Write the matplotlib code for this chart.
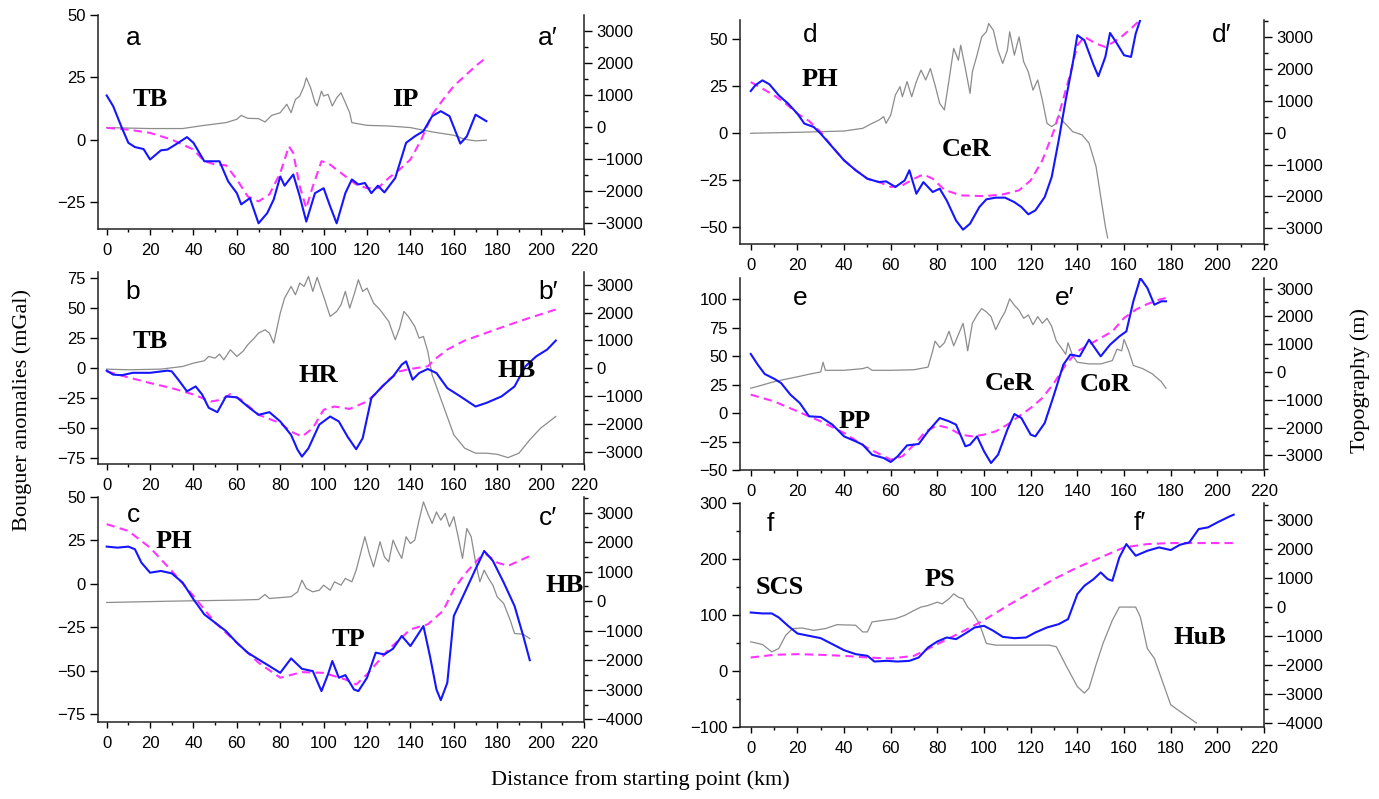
import matplotlib
matplotlib.use("Agg")
import matplotlib.pyplot as plt
from matplotlib.ticker import MultipleLocator

# ---- profile a-a' ----
a_obs_x = [0, 3, 7, 10, 13, 17, 20, 25, 28, 33, 37, 40, 45, 50, 52, 56, 60, 62, 66, 70, 74, 77, 80, 82, 86, 89,
           92, 96, 100, 103, 106, 110, 113, 116, 119, 122, 125, 128, 133, 138, 142, 146, 150, 154, 158, 163, 166, 170, 175]
a_obs = [17.7, 13.4, 4.7, -1.3, -3, -3.8, -8, -4.3, -4, -1.3, 1, -1.3, -8.7, -8.7, -8.7, -16.8, -21.5, -26, -23.5,
         -33.6, -29.5, -24, -14.8, -18.5, -14, -22.8, -32.9, -21.5, -19.5, -26.8, -33.6, -21.5, -16, -18, -17.4, -21.5,
         -18.5, -21.2, -15.4, -1.3, 1.3, 3.4, 9.4, 11.4, 9.4, -1.6, 1.3, 10, 7.4]
a_reg_x = [0, 10, 20, 30, 40, 45, 50, 55, 60, 65, 70, 75, 80, 84, 86, 89, 92, 95, 99, 102, 108, 115, 120, 125, 130,
           135, 140, 145, 150, 155, 160, 165, 170, 175]
a_reg = [4.7, 4, 2.7, 0, -4, -8.7, -10, -10.3, -16, -22.8, -24.8, -22, -13.4, -2.7, -5.4, -18.8, -27.5, -18.8, -8.7,
         -9.4, -13.4, -18, -19.5, -19.5, -15.4, -12, -8, 0, 10, 16, 21.5, 25.5, 29.5, 32.9]
a_topo_x = [0, 20, 35, 45, 55, 60, 62, 65, 70, 73, 76, 80, 83, 85, 87, 89, 91, 92, 94, 96, 97, 99, 100, 102, 104, 106,
            108, 110, 112, 113, 120, 130, 140, 150, 160, 165, 170, 175]
a_topo = [-30, -60, -60, 40, 125, 230, 350, 260, 250, 145, 350, 435, 700, 435, 850, 955, 1270, 1525, 1215, 750, 645,
          1110, 955, 1010, 645, 900, 1060, 750, 435, 125, 40, 20, -30, -165, -270, -395, -445, -425]

# ---- profile b-b' ----
b_obs_x = [0, 3, 7, 12, 20, 28, 30, 33, 37, 41, 44, 47, 51, 55, 60, 65, 70, 75, 80, 85, 88, 90, 93, 98, 103, 107,
           111, 115, 118, 122, 127, 132, 136, 138, 141, 144, 148, 152, 157, 163, 170, 175, 182, 188, 193, 198, 203, 207]
b_obs = [-2.2, -5.5, -6, -4, -4, -2.2, -2.8, -9.7, -19.4, -15.3, -22, -33, -36.7, -23.6, -24.4, -32, -38.9, -36.7,
         -44.4, -55.6, -68, -73.6, -66.7, -47, -40.3, -44.4, -57, -67.5, -58.3, -25, -15.3, -7, 2.8, 5.5, -9.7, -4.2,
         -0.8, -4.2, -16.7, -23.6, -32, -29, -23.6, -15.3, 1.4, 9.7, 15.3, 22.8]
b_reg_x = [0, 10, 20, 30, 40, 48, 53, 57, 62, 70, 80, 85, 90, 95, 100, 105, 112, 120, 125, 130, 135, 140, 148, 152,
           157, 165, 175, 185, 195, 207]
b_reg = [-2.8, -7.8, -12.5, -16.7, -22, -27.8, -26.4, -21.7, -26.4, -38.9, -45.8, -52.8, -57, -50, -34.7, -32, -34,
         -27.8, -19.4, -9.7, -2.8, -0.8, 1.4, 8.3, 15.3, 22.8, 29.2, 35.6, 41.7, 48.6]
b_topo_x = [0, 10, 25, 35, 40, 45, 47, 50, 52, 54, 57, 60, 63, 65, 68, 70, 73, 75, 77, 80, 82, 85, 87, 89, 91, 93, 95,
            97, 100, 103, 106, 108, 110, 112, 114, 116, 118, 120, 123, 126, 130, 133, 135, 137, 139, 142, 144, 146,
            148, 150, 155, 160, 165, 170, 175, 180, 185, 190, 195, 200, 207]
b_topo = [-35, -60, -35, 60, 180, 265, 420, 360, 505, 300, 660, 420, 620, 840, 1080, 1260, 1380, 1260, 900, 1980,
          2520, 2940, 2640, 3060, 2940, 3300, 2760, 3265, 2580, 1860, 2040, 2280, 2760, 2160, 2640, 3180, 2760, 2880,
          2340, 2100, 1680, 1020, 1440, 2040, 1860, 1500, 1080, 1140, 600, -240, -1320, -2400, -2880, -3060, -3060,
          -3100, -3220, -3060, -2580, -2160, -1740]

# ---- profile c-c' ----
c_obs_x = [0, 5, 10, 13, 16, 20, 25, 30, 35, 40, 45, 50, 55, 60, 65, 70, 75, 80, 85, 90, 95, 99, 102, 104, 107, 110,
           114, 116, 120, 124, 128, 132, 136, 140, 146, 149, 152, 154, 157, 160, 165, 170, 174, 178, 183, 188, 192, 195]
c_obs = [21.3, 20.7, 21.3, 19.8, 12.1, 6.3, 7.3, 5.9, 0.6, -9, -17.7, -22.5, -27.3, -34, -39.7, -43.6, -47.4, -51.3,
         -43, -49, -50.3, -61.8, -52.2, -44.5, -54.1, -52.6, -60.9, -61.8, -54.1, -39.7, -40.7, -37.4, -30.1, -35.9,
         -24.4, -41.7, -60.9, -67, -57, -18.6, -5.2, 8.3, 18.8, 13.1, 0.6, -12.9, -30.1, -44]
c_reg_x = [0, 10, 20, 30, 40, 50, 60, 70, 80, 90, 100, 110, 115, 120, 130, 140, 148, 155, 160, 165, 172, 175, 180,
           185, 195]
c_reg = [34.2, 30.3, 20.7, 7.3, -7.1, -22.5, -34, -45.5, -54.1, -50.9, -51.3, -55.1, -58, -52.2, -37.8, -26.3, -23.4,
         -15.7, -3.3, 5.4, 15, 16.9, 12.1, 10.2, 15.9]
c_topo_x = [0, 30, 60, 70, 73, 75, 85, 88, 90, 92, 95, 98, 100, 103, 105, 108, 110, 113, 115, 117, 119, 121, 123, 126,
            128, 130, 132, 134, 136, 138, 140, 142, 144, 146, 148, 150, 152, 154, 156, 158, 160, 162, 164, 166, 168,
            170, 172, 174, 176, 178, 180, 183, 186, 188, 192, 195]
c_topo = [-45, 0, 35, 55, 225, 90, 150, 315, 710, 430, 315, 370, 540, 370, 655, 540, 770, 655, 1050, 1615, 2180, 1615,
          1160, 2010, 1500, 1330, 2065, 1725, 1445, 2180, 1950, 2065, 2740, 3360, 2970, 2630, 3020, 2740, 2970, 2520,
          2860, 2180, 1445, 2460, 2180, 1330, 655, 1050, 770, 540, 145, -80, -645, -1095, -1120, -1265]

# ---- profile d-d' ----
d_obs_x = [0, 2, 5, 8, 12, 16, 20, 23, 27, 30, 35, 40, 45, 50, 55, 58, 62, 66, 68, 71, 74, 78, 81, 84, 88, 91, 94,
           98, 101, 105, 109, 113, 116, 119, 122, 126, 129, 132, 135, 138, 140, 143, 147, 149, 152, 154, 157, 160,
           163, 165, 167]
d_obs = [22.4, 25.5, 28.1, 26, 20.1, 15.7, 10.3, 5, 3.2, -0.4, -7.5, -14.6, -19.9, -24.4, -26.2, -25.8, -28.8, -25.3,
         -19.9, -32.4, -26.2, -31.5, -29.7, -36, -46.7, -51.6, -48.4, -39.5, -35.4, -34.5, -34.5, -36.9, -39.5, -43.4,
         -41.3, -34.2, -23.5, -3.9, 17.5, 37, 52.2, 49.5, 36.1, 30.3, 40.6, 53.4, 47.7, 41.5, 40.6, 53, 60.5]
d_reg_x = [0, 5, 10, 15, 20, 25, 30, 35, 40, 45, 50, 55, 60, 65, 70, 74, 78, 83, 90, 100, 108, 115, 120, 125, 130,
           133, 137, 140, 143, 148, 152, 158, 163, 167]
d_reg = [27.2, 23.7, 20.1, 15.7, 10.3, 6.4, 0.5, -7.5, -14.6, -19.9, -24.4, -26.2, -28.8, -28, -24.4, -22.1, -24.4,
         -30.3, -33.3, -33.7, -32.8, -30.6, -25.3, -14.6, 1.4, 13.9, 31.7, 46.8, 51.3, 47.7, 45.9, 50.4, 55.7, 60.5]
d_topo_x = [0, 20, 40, 48, 52, 55, 57, 58, 60, 62, 64, 65, 67, 69, 71, 73, 75, 77, 79, 81, 83, 85, 87, 89, 90, 92,
            94, 95, 97, 99, 101, 102, 104, 106, 108, 110, 111, 113, 115, 117, 119, 121, 123, 125, 127, 129, 131, 132,
            134, 136, 138, 142, 145, 148, 150, 152, 153]
d_topo = [-20, 10, 50, 135, 290, 395, 500, 290, 550, 1180, 1440, 1125, 1600, 1125, 1600, 1960, 1650, 2010, 1490, 915,
          710, 1650, 2640, 2270, 2740, 2010, 1230, 1910, 2430, 3000, 3160, 3420, 3210, 2580, 2170, 2580, 3160, 2430,
          3000, 2220, 1900, 1330, 1650, 1020, 290, 190, 290, 550, 340, 190, 30, -70, -330, -1060, -2000, -2940, -3300]

# ---- profile e-e' ----
e_obs_x = [0, 3, 6, 10, 13, 17, 21, 25, 30, 35, 40, 45, 48, 52, 57, 60, 63, 67, 72, 76, 81, 85, 88, 92, 94, 97, 100,
           103, 106, 110, 113, 116, 120, 122, 126, 130, 134, 137, 141, 145, 150, 154, 158, 161, 164, 167, 170, 173,
           176, 178]
e_obs = [51.8, 42.4, 34.2, 30.1, 26.3, 16.1, 8.8, -2.9, -3.5, -10.2, -20.5, -24.9, -27.8, -36.6, -39.5, -43, -38,
         -28.4, -27.2, -16.1, -4.4, -7.3, -10.2, -29.2, -27.8, -20.5, -33.6, -43.9, -36.6, -14.6, -0.9, -4.4, -19,
         -20.5, -8.8, 16.1, 42.4, 51.2, 49.7, 64.3, 49.7, 59.9, 67.2, 71.6, 98, 118.4, 109.7, 95, 98, 98]
e_reg_x = [0, 10, 20, 30, 40, 50, 60, 65, 70, 75, 80, 85, 90, 95, 100, 105, 110, 115, 120, 125, 130, 135, 140, 145,
           150, 155, 160, 165, 170, 175, 178]
e_reg = [16.1, 10.2, 1.5, -7.3, -17.5, -30.7, -40.9, -38, -27.8, -16.1, -10.8, -13.2, -19, -20.5, -19, -16.1, -10.2,
         -2.9, 4.4, 13.2, 26.3, 42.4, 54.1, 59.9, 65.8, 71.6, 83.3, 90.6, 95.6, 99.4, 100.9]
e_topo_x = [0, 5, 10, 15, 20, 25, 30, 31, 32, 40, 48, 50, 52, 60, 70, 76, 78, 79, 81, 83, 85, 87, 89, 91, 92, 93, 95,
            97, 99, 101, 103, 105, 107, 109, 111, 113, 115, 117, 119, 121, 123, 125, 127, 129, 131, 133, 135, 136,
            138, 140, 145, 150, 155, 157, 159, 160, 162, 164, 168, 172, 176, 178]
e_topo = [-585, -470, -350, -260, -175, -80, 0, 350, 60, 60, 120, 175, 60, 60, 80, 175, 760, 1110, 880, 1050, 1460,
          940, 1345, 1750, 1290, 760, 1750, 2050, 2280, 2160, 1990, 1520, 1870, 2160, 2630, 2400, 2220, 1930, 2050,
          1700, 1990, 1750, 1930, 1640, 1110, 880, 640, 1050, 580, 350, 290, 290, 410, 820, 760, 1170, 760, 235, 120,
          -60, -350, -585]

# ---- profile f-f' ----
f_obs_x = [0, 5, 9, 12, 16, 20, 25, 30, 35, 40, 45, 50, 53, 58, 63, 68, 72, 76, 80, 84, 88, 92, 96, 100, 104, 108,
           113, 118, 122, 127, 132, 136, 140, 143, 147, 150, 153, 155, 158, 161, 165, 170, 175, 180, 184, 188, 192,
           196, 200, 205, 207]
f_obs = [104.5, 102.8, 102.8, 95.6, 80.6, 66.9, 62.7, 58.5, 47.8, 37, 29.9, 26.9, 16.7, 17.9, 16.7, 17.9, 23.9, 41.8,
         52.6, 59.7, 56.8, 66.9, 77.7, 80.6, 71.7, 60.9, 58.5, 59.7, 68.7, 77.7, 83.6, 92.6, 137.4, 152.3, 164.3,
         176.2, 164.3, 161.3, 203.1, 227, 206.1, 215, 221, 216.3, 225.8, 230, 253.9, 256.9, 265.8, 276, 279.6]
f_reg_x = [0, 10, 20, 30, 40, 50, 60, 70, 80, 90, 100, 110, 120, 130, 140, 150, 160, 170, 180, 190, 207]
f_reg = [23.9, 28.7, 29.9, 28.7, 26.9, 23.9, 22.1, 26.9, 47.8, 68.7, 90.8, 116.5, 140.4, 164.3, 185.2, 203.1, 221,
         227, 228.8, 228.8, 228.8]
f_topo_x = [0, 5, 9, 12, 15, 18, 22, 27, 32, 37, 45, 48, 50, 52, 57, 62, 66, 70, 73, 76, 80, 82, 85, 87, 89, 91, 93,
            95, 98, 101, 105, 120, 128, 131, 135, 140, 143, 145, 148, 151, 155, 158, 165, 167, 170, 173, 176, 180,
            184, 188, 191]
f_topo = [-1195, -1285, -1540, -1425, -970, -740, -720, -800, -740, -605, -625, -855, -855, -510, -455, -400, -285,
          -115, 0, 55, 170, 110, 285, 455, 340, 285, 0, -170, -570, -1250, -1310, -1310, -1310, -1365, -1990, -2735,
          -2960, -2790, -1990, -1250, -455, 0, 0, -340, -1425, -1765, -2450, -3360, -3590, -3815, -3985]

W, H = 1379, 799
SANS = "Liberation Sans"
SERIF = "Liberation Serif"


def px_rect(left, top, right, bottom):
    return [left / W, 1 - bottom / H, (right - left) / W, (bottom - top) / H]


def draw_panel(fig, rect, xlim, ylim, ylim_topo, left_ticks, topo_ticks,
               tx, topo, ox, obs, rx, reg, left_minor=None):
    ax = fig.add_axes(rect)
    ax2 = ax.twinx()
    ax2.plot(tx, topo, color="#8c8c8c", lw=0.9)
    ax.plot(rx, reg, color="#ff33ff", lw=1.5, ls=(0, (4, 2.5)))
    ax.plot(ox, obs, color="#1515ff", lw=1.5)
    ax.set_zorder(ax2.get_zorder() + 1)
    ax.patch.set_visible(False)

    ax.set_xlim(xlim)
    ax.set_ylim(ylim)
    ax2.set_ylim(ylim_topo)
    ax.set_xticks(range(0, 221, 20))
    ax.xaxis.set_minor_locator(MultipleLocator(10))
    ax.set_yticks(left_ticks)
    if left_minor:
        ax.yaxis.set_minor_locator(MultipleLocator(left_minor))
    ax2.set_yticks(topo_ticks)
    ax2.yaxis.set_minor_locator(MultipleLocator(500))

    for a in (ax, ax2):
        a.spines["top"].set_visible(False)
        for s in a.spines.values():
            s.set_linewidth(1.1)
            s.set_color("#222222")
    ax.spines["right"].set_visible(False)
    ax2.spines["left"].set_visible(False)
    ax2.spines["bottom"].set_visible(False)

    ax.tick_params(axis="y", which="major", length=6, width=1, pad=3, labelsize=12)
    ax.tick_params(axis="y", which="minor", length=3, width=1)
    ax.tick_params(axis="x", which="major", length=4, width=1, pad=6, labelsize=12)
    ax.tick_params(axis="x", which="minor", length=2.5, width=1)
    ax2.tick_params(axis="y", which="major", length=6, width=1, pad=3, labelsize=12)
    ax2.tick_params(axis="y", which="minor", length=3, width=1)
    for lab in ax.get_xticklabels() + ax.get_yticklabels() + ax2.get_yticklabels():
        lab.set_fontfamily(SANS)
    return ax, ax2


fig = plt.figure(figsize=(W / 100, H / 100), dpi=100)

LX0, LX1 = 98, 584
RX0, RX1 = 740, 1264

draw_panel(fig, px_rect(LX0, 15, LX1, 229.3), (-4, 220), (-36, 50), (-3210, 3490),
           [-25, 0, 25, 50], range(-3000, 3001, 1000),
           a_topo_x, a_topo, a_obs_x, a_obs, a_reg_x, a_reg)
draw_panel(fig, px_rect(LX0, 271.7, LX1, 464.3), (-4, 220), (-80, 80), (-3460, 3470),
           range(-75, 76, 25), range(-3000, 3001, 1000),
           b_topo_x, b_topo, b_obs_x, b_obs, b_reg_x, b_reg)
draw_panel(fig, px_rect(LX0, 496.7, LX1, 721.7), (-4, 220), (-79.4, 50), (-4080, 3535),
           range(-75, 51, 25), range(-4000, 3001, 1000),
           c_topo_x, c_topo, c_obs_x, c_obs, c_reg_x, c_reg)
draw_panel(fig, px_rect(RX0, 20, RX1, 244.3), (-4.6, 220), (-59.4, 60.3), (-3500, 3530),
           range(-50, 51, 25), range(-3000, 3001, 1000),
           d_topo_x, d_topo, d_obs_x, d_obs, d_reg_x, d_reg)
draw_panel(fig, px_rect(RX0, 277.7, RX1, 470), (-4.6, 220), (-50, 118.7), (-3525, 3390),
           range(-50, 101, 25), range(-3000, 3001, 1000),
           e_topo_x, e_topo, e_obs_x, e_obs, e_reg_x, e_reg)
draw_panel(fig, px_rect(RX0, 503.3, RX1, 726.7), (-4.6, 220), (-100, 300), (-4115, 3570),
           range(-100, 301, 100), range(-4000, 3001, 1000),
           f_topo_x, f_topo, f_obs_x, f_obs, f_reg_x, f_reg, left_minor=50)


def put(x, y, s, **kw):
    fig.text(x / W, 1 - y / H, s, ha="center", va="center", **kw)


# profile end labels
ends = [("a", 133, 38), ("a\u2032", 548, 38), ("b", 133, 292), ("b\u2032", 548, 292),
        ("c", 133, 515), ("c\u2032", 548, 518), ("d", 810, 35), ("d\u2032", 1222, 35),
        ("e", 800, 298), ("e\u2032", 1065, 298), ("f", 770, 524), ("f\u2032", 1140, 523)]
for s, x, y in ends:
    put(x, y, s, fontsize=19, family=SANS)

# region names
regions = [("TB", 150, 100), ("IP", 405, 100), ("TB", 150, 341), ("HR", 318, 375), ("HB", 517, 370),
           ("PH", 174, 541), ("TP", 348, 640), ("HB", 565, 585), ("PH", 820, 80), ("CeR", 967, 150),
           ("CeR", 1010, 383), ("PP", 855, 422), ("CoR", 1105, 384), ("SCS", 780, 588), ("PS", 940, 580),
           ("HuB", 1200, 637)]
for s, x, y in regions:
    put(x, y, s, fontsize=19, family=SERIF, fontweight="bold")

put(22, 410, "Bouguer anomalies (mGal)", fontsize=16, family=SERIF, rotation=90)
put(1360, 380, "Topography (m)", fontsize=16, family=SERIF, rotation=90)
put(640, 780, "Distance from starting point (km)", fontsize=16, family=SERIF)

fig.savefig("out.png", dpi=100)
